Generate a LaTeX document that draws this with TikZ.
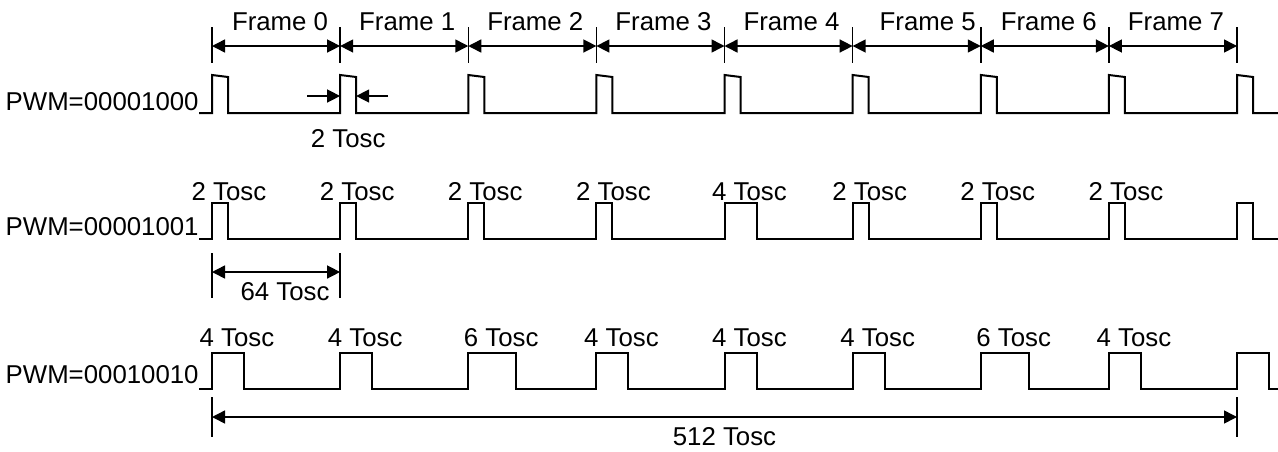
\documentclass[tikz,border=0pt]{standalone}
\usepackage{fontspec}
\setmainfont{Liberation Sans}
\usetikzlibrary{arrows.meta, calc}
\tikzstyle{wave} = [line width=1pt, line join=miter]
\tikzstyle{tick} = [line width=0.75pt]
\tikzstyle{dim} = [line width=0.75pt, {Triangle[length=6.5pt,width=6.5pt]}-{Triangle[length=6.5pt,width=6.5pt]}]
\tikzstyle{arrow} = [line width=0.75pt, -{Triangle[length=6.5pt,width=6.5pt]}]
\tikzstyle{lbl} = [inner sep=0pt, font=\fontsize{12.9}{15}\selectfont]

\begin{document}
\begin{tikzpicture}[x=0.5pt, y=-0.5pt]
\useasboundingbox (0,0) rectangle (1278,451);

\foreach \i in {0,...,8}
  \coordinate (fb\i) at ({212+128.125*\i},46);
\foreach \i in {0,...,8}
  \draw [tick] ($(fb\i)+(0,-19)$) -- ($(fb\i)+(0,17)$);
\foreach \i/\dx [evaluate=\i as \j using int(\i+1)] in {0/4,1/3,2/3,3/3,4/3,5/11,6/4,7/3} {
  \draw [dim] (fb\i) -- (fb\j);
  \node (frame\i) [lbl, anchor=base] at ($(fb\i)!0.5!(fb\j)+(\dx,-16)$) {Frame \i};
}

\node (pwm1) [lbl, anchor=base east] at (199,110) {PWM=00001000};
\node (pwm2) [lbl, anchor=base east] at (199,235) {PWM=00001001};
\node (pwm3) [lbl, anchor=base east] at (199,383) {PWM=00010010};

\draw [wave] (pwm1.base east |- 0,113) \foreach \i in {0,...,8} {
  -- ($(fb\i)+(0,67)$) -- ++(0,-38) -- ++(16,2) -- ++(0,36) } -- (1278,113);
\draw [wave] (pwm2.base east |- 0,239) \foreach \w [count=\i from 0] in {2,2,2,2,4,2,2,2,2} {
  -- ($(fb\i)+(0,193)$) -- ++(0,-36) -- ++(8*\w,0) -- ++(0,36) } -- (1278,239);
\draw [wave] (pwm3.base east |- 0,389) \foreach \w [count=\i from 0] in {4,4,6,4,4,4,6,4,4} {
  -- ($(fb\i)+(0,343)$) -- ++(0,-36) -- ++(8*\w,0) -- ++(0,36) } -- (1278,389);

\foreach \w [count=\i from 0] in {2,2,2,2,4,2,2,2}
  \node (ta\i) [lbl, anchor=base] at ($(fb\i)+(4*\w+9,154)$) {\w\ Tosc};
\foreach \w [count=\i from 0] in {4,4,6,4,4,4,6,4}
  \node (tb\i) [lbl, anchor=base] at ($(fb\i)+(4*\w+9,300)$) {\w\ Tosc};

\coordinate (rise) at ($(fb1)+(0,50)$);
\coordinate (fall) at ($(rise)+(16,0)$);
\coordinate (risetail) at ($(rise)+(-33,0)$);
\coordinate (falltail) at ($(fall)+(32,0)$);
\draw [arrow] (risetail) -- (rise);
\draw [arrow] (falltail) -- (fall);
\node (width1) [lbl, anchor=base] at ($(rise)!0.5!(fall)+(0,51)$) {2 Tosc};

\coordinate (d64a) at ($(fb0)+(0,226)$);
\coordinate (d64b) at ($(fb1)+(0,226)$);
\draw [tick] ($(d64a)+(0,-19)$) -- ($(d64a)+(0,26)$);
\draw [tick] ($(d64b)+(0,-19)$) -- ($(d64b)+(0,26)$);
\draw [dim] (d64a) -- (d64b);
\node (tosc64) [lbl, anchor=base] at ($(d64a)!0.5!(d64b)+(9,28)$) {64 Tosc};

\coordinate (d512a) at ($(fb0)+(0,371)$);
\coordinate (d512b) at ($(fb8)+(0,371)$);
\draw [tick] ($(d512a)+(0,-20)$) -- ($(d512a)+(0,20)$);
\draw [tick] ($(d512b)+(0,-20)$) -- ($(d512b)+(0,20)$);
\draw [dim] (d512a) -- (d512b);
\node (tosc512) [lbl, anchor=base] at ($(d512a)!0.5!(d512b)+(0,28)$) {512 Tosc};
\end{tikzpicture}
\end{document}
